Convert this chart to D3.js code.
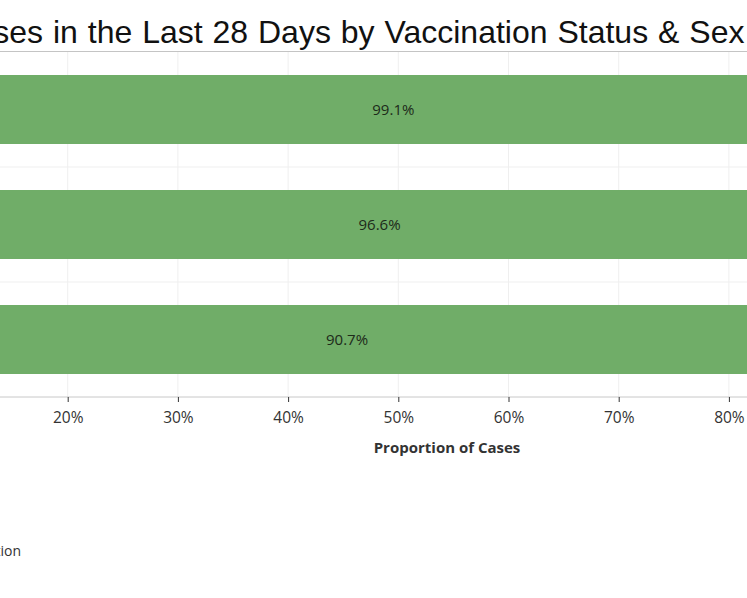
<!DOCTYPE html>
<html>
<head>
<meta charset="utf-8">
<script src="https://cdn.jsdelivr.net/npm/d3@7"></script>
<style>
  body { margin: 0; background: #fff; overflow: hidden; }
  svg { display: block; }
</style>
</head>
<body>
<svg id="chart" width="747" height="598"></svg>
<script>
// rows of the chart, top to bottom
const groups = ["Deaths", "Hospitalisations", "Cases"];
// share of cases in the first (green) group
const shares = [0.991, 0.966, 0.907];
const ticks = [0.2, 0.3, 0.4, 0.5, 0.6, 0.7, 0.8];
const titleText = "Proportion of Cases in the Last 28 Days by Vaccination Status & Sex";
const legendText = "Vaccination";

const svg = d3.select("#chart");
const W = 747;

// the view is cropped: 0% sits left of the page edge
const x = d3.scaleLinear().domain([0, 1]).range([-152.7, 949.3]);
const y = d3.scaleBand().domain(groups).range([52, 397]).padding(0);
const barH = y.bandwidth() * 0.6;

// vertical grid
svg.append("g")
   .selectAll("line")
   .data(ticks)
   .enter().append("line")
   .attr("x1", d => x(d)).attr("x2", d => x(d))
   .attr("y1", 52).attr("y2", 397)
   .attr("stroke", "#efefef");

// row separators
svg.append("g")
   .selectAll("line")
   .data(groups.slice(1))
   .enter().append("line")
   .attr("x1", 0).attr("x2", W)
   .attr("y1", d => y(d)).attr("y2", d => y(d))
   .attr("stroke", "#efefef");

// bars
svg.selectAll(".bar")
   .data(groups)
   .enter().append("rect")
   .attr("class", "bar")
   .attr("x", x(0))
   .attr("y", d => y(d) + (y.bandwidth() - barH) / 2)
   .attr("width", (d, i) => x(shares[i]) - x(0))
   .attr("height", barH)
   .attr("fill", "#70ad68");

svg.selectAll(".label")
   .data(groups)
   .enter().append("text")
   .attr("class", "label")
   .attr("x", (d, i) => x(shares[i] / 2))
   .attr("y", d => y(d) + y.bandwidth() / 2)
   .attr("dy", "0.35em")
   .attr("text-anchor", "middle")
   .style("font-family", "'Open Sans', sans-serif")
   .style("font-size", "15px")
   .style("fill", "#1d2a1a")
   .text((d, i) => d3.format(".1%")(shares[i]));

// x axis
const axis = svg.append("g")
   .attr("transform", "translate(0,397)")
   .call(d3.axisBottom(x).tickValues(ticks).tickFormat(d3.format(".0%")).tickSize(5).tickPadding(10));
axis.select(".domain").remove();
axis.insert("line", ":first-child")
   .attr("x1", 0).attr("x2", W)
   .attr("stroke", "#c8c8c8");
axis.selectAll(".tick line").attr("stroke", "#333");
axis.selectAll(".tick text")
   .style("font-family", "'Open Sans', sans-serif")
   .style("font-size", "15.5px")
   .style("fill", "#333");

svg.append("text")
   .attr("x", 447)
   .attr("y", 453)
   .attr("text-anchor", "middle")
   .style("font-family", "'Open Sans', sans-serif")
   .style("font-size", "15px")
   .style("font-weight", "bold")
   .style("fill", "#333")
   .text("Proportion of Cases");

// title, positioned so "Days" lands where it does in the crop
const title = svg.append("text")
   .attr("y", 43)
   .style("font-family", "'Liberation Sans', Arial, sans-serif")
   .style("font-size", "32px")
   .style("word-spacing", "1px")
   .style("fill", "#111")
   .text(titleText);
const offset = title.node().getStartPositionOfChar(titleText.indexOf("Days")).x;
title.attr("x", 258 - offset);

svg.append("line")
   .attr("x1", 0).attr("x2", W)
   .attr("y1", 51.5).attr("y2", 51.5)
   .attr("stroke", "#c4c4c4");

svg.append("text")
   .attr("x", 21)
   .attr("y", 556)
   .attr("text-anchor", "end")
   .style("font-family", "'Open Sans', sans-serif")
   .style("font-size", "14px")
   .style("fill", "#333")
   .text(legendText);
</script>
</body>
</html>
